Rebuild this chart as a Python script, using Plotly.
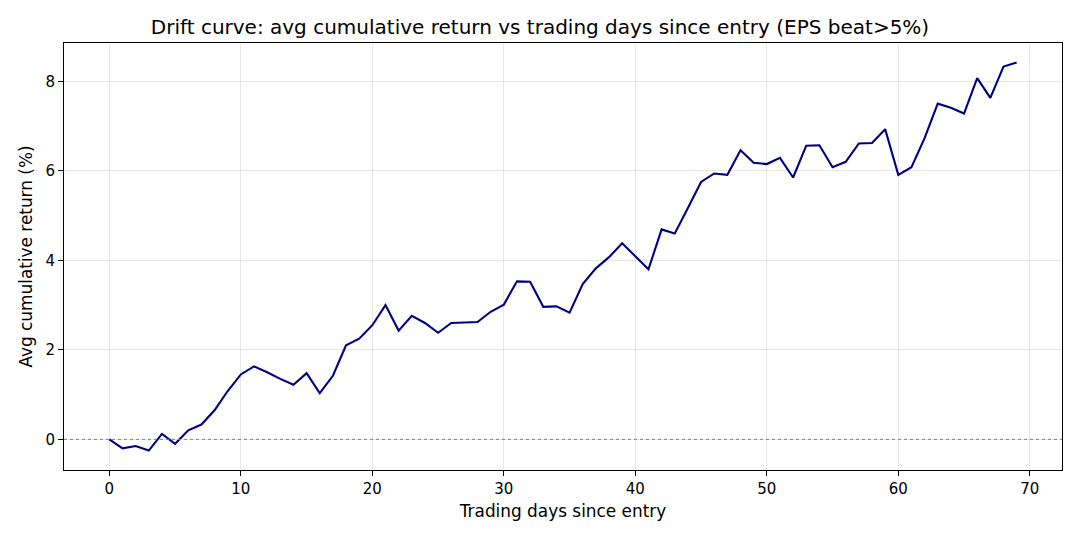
import plotly.graph_objects as go

days = list(range(70))
avg_return = [0.0, -0.2, -0.15, -0.25, 0.12, -0.1, 0.2, 0.33, 0.65, 1.08,
              1.45, 1.63, 1.5, 1.35, 1.22, 1.48, 1.03, 1.42, 2.1, 2.25,
              2.55, 3.0, 2.43, 2.76, 2.6, 2.38, 2.6, 2.61, 2.62, 2.85,
              3.01, 3.53, 3.52, 2.96, 2.97, 2.83, 3.47, 3.82, 4.07, 4.38,
              4.08, 3.8, 4.69, 4.6, 5.17, 5.75, 5.94, 5.91, 6.46, 6.18,
              6.15, 6.29, 5.85, 6.56, 6.57, 6.08, 6.2, 6.61, 6.62, 6.93,
              5.91, 6.08, 6.73, 7.5, 7.41, 7.28, 8.07, 7.63, 8.33, 8.42]

title = "Drift curve: avg cumulative return vs trading days since entry (EPS beat>5%)"
font = "DejaVu Sans"

fig = go.Figure()
fig.add_trace(go.Scatter(x=days, y=avg_return, mode="lines",
                         line=dict(color="#000080", width=2.1),
                         showlegend=False, hoverinfo="x+y"))

fig.add_shape(type="line", xref="paper", yref="y", x0=0, x1=1, y0=0, y1=0,
              line=dict(color="gray", width=1, dash="dot"), layer="above")

axis_common = dict(showline=True, linecolor="black", linewidth=1, mirror=True,
                   ticks="outside", ticklen=5, tickwidth=1, tickcolor="black",
                   showgrid=True, gridcolor="rgba(176,176,176,0.3)", gridwidth=1,
                   zeroline=False, tickfont=dict(family=font, size=15, color="black"))

fig.update_layout(
    width=1080, height=540,
    margin=dict(l=64, r=18, t=43, b=70),
    paper_bgcolor="white", plot_bgcolor="white",
    title=dict(text=title, x=0.5, xanchor="center", y=1 - 27/540, yanchor="middle",
               font=dict(family=font, size=20, color="black")),
    xaxis=dict(range=[-3.45, 72.45], tickvals=[0, 10, 20, 30, 40, 50, 60, 70],
               title=dict(text="Trading days since entry", font=dict(family=font, size=16.9, color="black"), standoff=8),
               **axis_common),
    yaxis=dict(range=[-0.685, 8.855], tickvals=[0, 2, 4, 6, 8],
               title=dict(text="Avg cumulative return (%)", font=dict(family=font, size=16.9, color="black"), standoff=8),
               **axis_common),
)

fig.write_html("out.html")
